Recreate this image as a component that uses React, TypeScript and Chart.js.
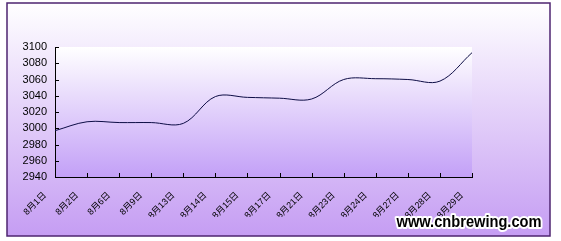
import React, { useEffect, useRef } from "react";
import { Chart, registerables } from "chart.js";

Chart.register(...registerables);

const categories = ["8月1日", "8月2日", "8月6日", "8月9日", "8月13日", "8月14日", "8月15日", "8月17日", "8月21日", "8月23日", "8月24日", "8月27日", "8月28日", "8月29日"];
const prices = [2997, 3008, 3007, 3007, 3006, 3039, 3038, 3037, 3036, 3060, 3061, 3060, 3058, 3093];
const yMin = 2940;
const yMax = 3100;
const yStep = 20;
const watermark = "www.cnbrewing.com";

const W = 561;
const H = 241;

const backgroundPlugin = {
  id: "bgPlugin",
  beforeDraw(chart: any) {
    const { ctx, chartArea } = chart;
    ctx.save();
    ctx.fillStyle = "#ffffff";
    ctx.fillRect(0, 0, W, H);
    const g = ctx.createLinearGradient(0, 3, 0, 236);
    g.addColorStop(0, "#ffffff");
    g.addColorStop(1, "#c59df3");
    ctx.fillStyle = g;
    ctx.fillRect(7, 3, 543, 233);
    const pg = ctx.createLinearGradient(0, chartArea.top, 0, chartArea.bottom);
    pg.addColorStop(0, "#ffffff");
    pg.addColorStop(1, "#c3a0f7");
    ctx.fillStyle = pg;
    ctx.fillRect(chartArea.left, chartArea.top, chartArea.right - chartArea.left, chartArea.bottom - chartArea.top);
    ctx.strokeStyle = "#4e2470";
    ctx.lineWidth = 1.5;
    ctx.strokeRect(7, 3, 543, 233);
    ctx.restore();
  },
  afterDraw(chart: any) {
    const { ctx, chartArea, scales } = chart;
    const xs = scales.x;
    const ys = scales.y;
    ctx.save();
    ctx.strokeStyle = "#000000";
    ctx.lineWidth = 1;
    ctx.beginPath();
    for (let v = yMin; v <= yMax; v += yStep) {
      const py = Math.round(ys.getPixelForValue(v)) + 0.5;
      ctx.moveTo(chartArea.left, py);
      ctx.lineTo(chartArea.left + 4, py);
    }
    for (let i = 1; i < categories.length; i++) {
      const px = Math.round(xs.getPixelForValue(i)) + 0.5;
      ctx.moveTo(px, chartArea.bottom);
      ctx.lineTo(px, chartArea.bottom - 4);
    }
    ctx.stroke();

    ctx.font = 'bold 16px "Liberation Sans", Arial, sans-serif';
    const m = ctx.measureText(watermark).width;
    const targetW = 145;
    const sx = targetW / m;
    ctx.translate(541.5, 226.5);
    ctx.scale(sx, 1);
    ctx.textAlign = "right";
    ctx.textBaseline = "alphabetic";
    ctx.lineJoin = "round";
    ctx.strokeStyle = "#ffffff";
    ctx.lineWidth = 4;
    ctx.strokeText(watermark, 0, 0);
    ctx.fillStyle = "#000000";
    ctx.fillText(watermark, 0, 0);
    ctx.restore();
  },
};

export default function App() {
  const ref = useRef<HTMLCanvasElement | null>(null);
  useEffect(() => {
    if (!ref.current) return;
    const chart = new Chart(ref.current, {
      type: "line",
      data: {
        labels: categories,
        datasets: [
          {
            data: prices,
            borderColor: "#0d0d45",
            borderWidth: 1,
            pointRadius: 0,
            pointHoverRadius: 0,
            fill: false,
            tension: 0.35,
          },
        ],
      },
      options: {
        animation: false,
        responsive: false,
        devicePixelRatio: 1,
        layout: { padding: { left: 0, top: 47, right: 89, bottom: 24 } },
        plugins: { legend: { display: false }, tooltip: { enabled: false } },
        scales: {
          x: {
            type: "category",
            offset: false,
            grid: { display: true, drawOnChartArea: false, drawTicks: false },
            border: { display: true, color: "#000000", width: 1 },
            ticks: {
              autoSkip: false,
              maxRotation: 45,
              minRotation: 45,
              color: "#000000",
              padding: 13,
              labelOffset: -10,
              font: { size: 9, family: '"Liberation Sans", "Noto Sans CJK SC", sans-serif' },
            },
            afterFit: (s: any) => {
              s.height = 40;
            },
          },
          y: {
            min: yMin,
            max: yMax,
            grid: { display: true, drawOnChartArea: false, drawTicks: false },
            border: { display: true, color: "#000000", width: 1 },
            ticks: {
              stepSize: yStep,
              color: "#000000",
              padding: 8,
              font: { size: 11, family: '"Liberation Sans", Arial, sans-serif' },
              callback: (v: any) => String(v),
            },
            afterFit: (s: any) => {
              s.width = 55;
            },
          },
        },
      },
      plugins: [backgroundPlugin],
    });
    return () => chart.destroy();
  }, []);
  return (
    <div style={{ position: "absolute", left: 0, top: 0, width: W, height: H }}>
      <canvas ref={ref} width={W} height={H} style={{ width: W, height: H, display: "block" }} />
    </div>
  );
}
